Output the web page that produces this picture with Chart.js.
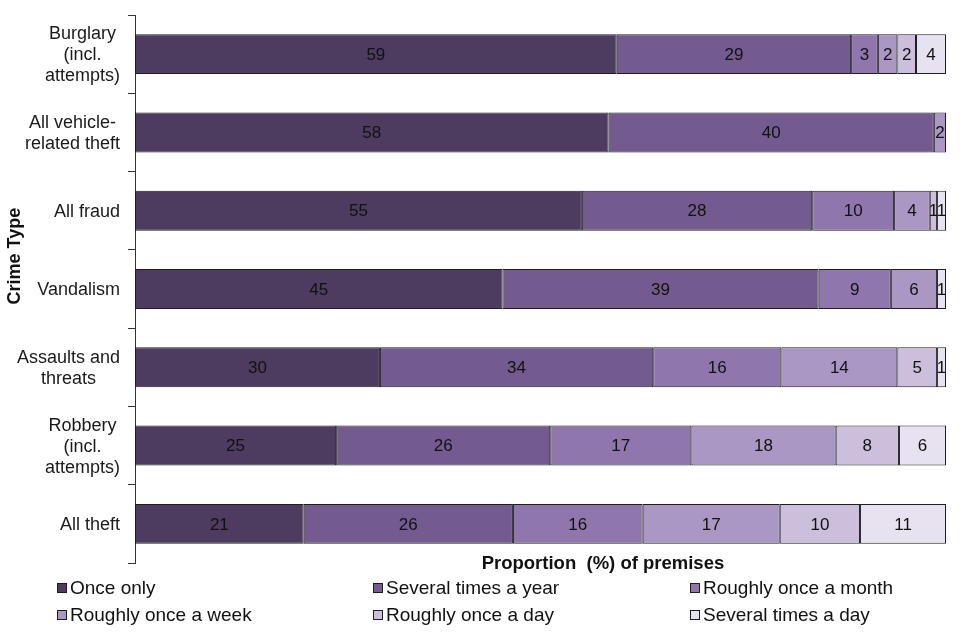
<!DOCTYPE html>
<html>
<head>
<meta charset="utf-8">
<script src="https://cdn.jsdelivr.net/npm/chart.js@4.4.1/dist/chart.umd.min.js"></script>
<style>
  body { margin: 0; background: #fff; }
  #wrap { width: 960px; height: 640px; position: relative; }
</style>
</head>
<body>
<div id="wrap"><canvas id="grafico"></canvas></div>
<script>
// categorias (de arriba a abajo)
var categorias = [
    ["Burglary", "(incl.", "attempts)"],
    ["All vehicle-", "related theft"],
    "All fraud",
    "Vandalism",
    ["Assaults and", "threats"],
    ["Robbery", "(incl.", "attempts)"],
    "All theft"
];

var series = ["Once only", "Several times a year", "Roughly once a month",
    "Roughly once a week", "Roughly once a day", "Several times a day"];

// valores (%), una lista por serie
var onceOnly       = [59.4, 58.4, 55.1, 45.3, 30.2, 24.8, 20.8];
var severalYear    = [28.9, 40.1, 28.4, 39.0, 33.7, 26.4, 25.8];
var onceMonth      = [3.3, 0, 10.1, 8.9, 15.8, 17.4, 16.0];
var onceWeek       = [2.4, 1.5, 4.4, 5.7, 14.3, 17.8, 16.9];
var onceDay        = [2.3, 0, 0.9, 0, 4.9, 7.8, 9.9];
var severalDay     = [3.7, 0, 1.1, 1.1, 1.1, 5.8, 10.6];

var colores = ["#4d3b60", "#735a8f", "#8f77ad", "#aa97c3", "#cbbfdc", "#e7e2ef"];
var valores = [onceOnly, severalYear, onceMonth, onceWeek, onceDay, severalDay];

var fuente = "'Liberation Sans', Arial, sans-serif";

var datasets = series.map(function (nombre, i) {
    return {
        label: nombre,
        data: valores[i],
        backgroundColor: colores[i],
        borderColor: "#1e1e1e",
        borderWidth: 1,
        borderSkipped: false,
        categoryPercentage: 1,
        barPercentage: 0.51
    };
});

// etiquetas de valor dentro de las barras
var etiquetas = {
    id: "etiquetas",
    afterDatasetsDraw: function (chart) {
        var ctx = chart.ctx;
        ctx.save();
        ctx.font = "17px " + fuente;
        ctx.fillStyle = "#111";
        ctx.textAlign = "center";
        ctx.textBaseline = "middle";
        chart.data.datasets.forEach(function (ds, i) {
            chart.getDatasetMeta(i).data.forEach(function (bar, j) {
                var v = ds.data[j];
                if (!v) return;
                var cx = (bar.x + bar.base) / 2;
                ctx.fillText(Math.round(v), cx, bar.y + 1);
            });
        });
        ctx.restore();
    }
};

// categorias: bloque alineado a la derecha, lineas centradas entre si
var categoriasEje = {
    id: "categoriasEje",
    afterDraw: function (chart) {
        var ctx = chart.ctx;
        var escala = chart.scales.y;
        var derecha = escala.right - 15;
        var alto = 21;
        ctx.save();
        ctx.font = "18px " + fuente;
        ctx.fillStyle = "#1a1a1a";
        ctx.textAlign = "center";
        ctx.textBaseline = "middle";
        chart.data.labels.forEach(function (lab, i) {
            var lineas = Array.isArray(lab) ? lab : [lab];
            var ancho = 0;
            lineas.forEach(function (l) { ancho = Math.max(ancho, ctx.measureText(l).width); });
            var cx = derecha - ancho / 2;
            var cy = escala.getPixelForTick(i);
            var y0 = cy - (lineas.length - 1) * alto / 2;
            lineas.forEach(function (l, k) {
                ctx.fillText(l, cx, y0 + k * alto + 1);
            });
        });
        ctx.restore();
    }
};

// titulos de ejes y leyenda en 3 columnas
var pie = {
    id: "pie",
    afterDraw: function (chart) {
        var ctx = chart.ctx;
        var area = chart.chartArea;
        ctx.save();
        ctx.fillStyle = "#111";
        ctx.font = "bold 18.5px " + fuente;
        ctx.textAlign = "center";
        ctx.textBaseline = "middle";
        ctx.fillText("Proportion  (%) of premises", area.left + (area.right - area.left) * 0.577, area.bottom + 1);

        ctx.save();
        ctx.translate(15, area.top + (area.bottom - area.top) * 0.44);
        ctx.rotate(-Math.PI / 2);
        ctx.font = "bold 18px " + fuente;
        ctx.fillText("Crime Type", 0, 0);
        ctx.restore();

        var colX = [57, 373, 690];
        var filaY = [588, 615];
        ctx.font = "19px " + fuente;
        ctx.textAlign = "left";
        chart.data.datasets.forEach(function (ds, i) {
            var x = colX[i % 3];
            var y = filaY[Math.floor(i / 3)];
            ctx.fillStyle = ds.backgroundColor;
            ctx.fillRect(x, y - 5, 10, 10);
            ctx.strokeStyle = "#1e1e1e";
            ctx.lineWidth = 1;
            ctx.strokeRect(x + 0.5, y - 4.5, 9, 9);
            ctx.fillStyle = "#111";
            ctx.fillText(ds.label, x + 13, y + 1);
        });
        ctx.restore();
    }
};

var ctx = document.getElementById("grafico");
var grafico = new Chart(ctx, {
    type: "bar",
    data: {
        labels: categorias,
        datasets: datasets
    },
    options: {
        indexAxis: "y",
        responsive: true,
        maintainAspectRatio: false,
        animation: false,
        layout: { padding: { top: 15, right: 14, left: 0, bottom: 0 } },
        plugins: {
            legend: { display: false },
            tooltip: { enabled: false }
        },
        scales: {
            x: {
                stacked: true,
                min: 0,
                max: 100,
                ticks: { display: false },
                grid: { display: false },
                border: { display: false },
                afterFit: function (scale) { scale.height = 77; }
            },
            y: {
                stacked: true,
                grid: {
                    offset: true,
                    drawOnChartArea: false,
                    tickLength: 7,
                    color: "#333"
                },
                border: { display: true, color: "#333", width: 1 },
                ticks: {
                    color: "rgba(0,0,0,0)",
                    font: { family: fuente, size: 18 }
                },
                afterFit: function (scale) { scale.width = 135; }
            }
        }
    },
    plugins: [etiquetas, categoriasEje, pie]
});
</script>
</body>
</html>
